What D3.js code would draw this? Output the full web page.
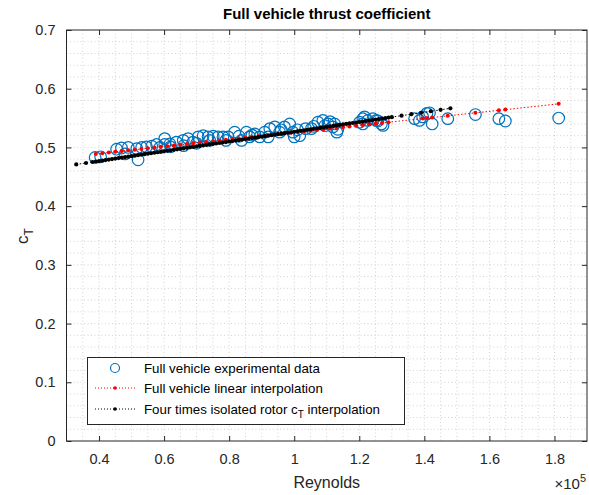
<!DOCTYPE html>
<html><head><meta charset="utf-8">
<script src="https://cdn.jsdelivr.net/npm/d3@7/dist/d3.min.js"></script>
<style>
body{margin:0;background:#fff;}
text{font-family:"Liberation Sans",Arial,Helvetica,sans-serif;}
</style></head>
<body>
<svg id="chart" width="589" height="495"></svg>
<script>
// Reynolds in units of 1e5
const expRe = [0.388,0.405,0.454,0.469,0.480,0.490,0.516,0.520,0.531,0.546,0.562,0.577,0.587,0.602,
  0.602,0.618,0.620,0.638,0.659,0.660,0.674,0.689,0.700,0.705,0.720,0.735,0.740,0.751,0.766,0.781,0.790,0.797,0.817,0.830,0.838,0.853,0.863,
  0.870,0.879,0.894,0.909,0.920,0.925,0.940,0.955,0.960,0.970,0.986,0.996,1.000,1.010,1.017,1.035,1.053,1.060,1.073,1.088,1.094,1.104,1.110,1.119,1.131,
  1.124,1.134,1.201,1.211,1.211,1.216,1.226,1.242,1.252,1.257,1.268,1.273,
  1.370,1.385,1.395,1.408,1.416,1.424,1.472,1.557,1.629,1.649,1.813];
const expCt = [0.483,0.484,0.497,0.499,0.489,0.500,0.498,0.479,0.500,0.501,0.502,0.505,0.500,0.505,
  0.515,0.506,0.501,0.509,0.512,0.503,0.515,0.509,0.507,0.518,0.520,0.518,0.512,0.519,0.518,0.518,0.512,0.518,0.526,0.519,0.512,0.526,0.518,
  0.521,0.523,0.518,0.526,0.518,0.532,0.535,0.526,0.530,0.535,0.540,0.526,0.518,0.530,0.520,0.532,0.532,0.536,0.543,0.546,0.537,0.540,0.544,0.535,0.526,
  0.540,0.531,0.543,0.549,0.540,0.552,0.546,0.549,0.546,0.545,0.540,0.5375,
  0.549,0.546,0.552,0.558,0.559,0.540,0.549,0.556,0.549,0.545,0.550];

const fitRe = [0.39,0.41,0.43,0.45,0.47,0.49,0.51,0.53,0.55,0.57,0.59,0.61,0.63,0.65,0.67,0.69,0.71,0.73,0.75,0.77,0.79,
  0.81,0.83,0.85,0.87,0.89,0.91,0.93,0.95,0.97,0.99,1.01,1.03,1.05,1.07,1.09,1.11,1.13,1.15,1.17,1.19,1.21,1.23,1.25,1.27,1.29,
  1.395,1.408,1.424,1.472,1.557,1.629,1.649,1.813];
const fitCt = [0.4890,0.4902,0.4914,0.4926,0.4938,0.4950,0.4962,0.4974,0.4986,0.4998,0.5010,0.5022,0.5034,0.5046,0.5058,0.5070,0.5082,0.5094,0.5106,0.5118,0.5130,
  0.5142,0.5154,0.5166,0.5178,0.5190,0.5201,0.5213,0.5225,0.5237,0.5249,0.5261,0.5273,0.5285,0.5297,0.5309,0.5321,0.5333,0.5345,0.5357,0.5369,0.5381,0.5393,0.5405,0.5417,0.5429,
  0.5492,0.5500,0.5509,0.5538,0.5589,0.5632,0.5644,0.5742];

const rotRe = [0.33,0.36,0.38,0.39,0.40,0.41,0.42,0.43,0.44,0.45,0.46,0.47,0.48,0.49,0.50,0.51,0.52,0.53,0.54,0.55,0.56,0.57,0.58,0.59,
  0.60,0.61,0.62,0.63,0.64,0.65,0.66,0.67,0.68,0.69,0.70,0.71,0.72,0.73,0.74,0.75,0.76,0.77,0.78,0.79,
  0.80,0.81,0.82,0.83,0.84,0.85,0.86,0.87,0.88,0.89,0.90,0.91,0.92,0.93,0.94,0.95,0.96,0.97,0.98,0.99,
  1.00,1.01,1.02,1.03,1.04,1.05,1.06,1.07,1.08,1.09,1.10,1.11,1.12,1.13,1.14,1.15,1.16,1.17,1.18,1.19,
  1.20,1.21,1.22,1.23,1.24,1.25,1.26,1.27,1.28,1.29,1.30,
  1.33,1.36,1.39,1.42,1.45,1.48];
const rotCt = [0.4710,0.4735,0.4752,0.4760,0.4768,0.4776,0.4785,0.4793,0.4801,0.4810,0.4818,0.4826,0.4835,0.4843,0.4851,0.4860,0.4868,0.4876,0.4885,0.4893,0.4901,0.4909,0.4918,0.4926,
  0.4934,0.4943,0.4951,0.4959,0.4968,0.4976,0.4984,0.4993,0.5001,0.5009,0.5017,0.5026,0.5034,0.5042,0.5051,0.5059,0.5067,0.5076,0.5084,0.5092,
  0.5101,0.5109,0.5117,0.5125,0.5134,0.5142,0.5150,0.5159,0.5167,0.5175,0.5184,0.5192,0.5200,0.5209,0.5217,0.5225,0.5234,0.5242,0.5250,0.5258,
  0.5267,0.5275,0.5283,0.5292,0.5300,0.5308,0.5317,0.5325,0.5333,0.5341,0.5350,0.5358,0.5366,0.5375,0.5383,0.5391,0.5400,0.5408,0.5416,0.5425,
  0.5433,0.5441,0.5450,0.5458,0.5466,0.5474,0.5483,0.5491,0.5499,0.5508,0.5516,
  0.5541,0.5566,0.5591,0.5616,0.5641,0.5666];

const xTicks = [0.4,0.6,0.8,1,1.2,1.4,1.6,1.8];
const yTicks = [0,0.1,0.2,0.3,0.4,0.5,0.6,0.7];
const legendLabels = ["Full vehicle experimental data","Full vehicle linear interpolation","Four times isolated rotor c_T interpolation"];

const L=66.5, R=587, T=30, B=441;
const x = d3.scaleLinear().domain([0.3,1.9]).range([L,R]);
const y = d3.scaleLinear().domain([0,0.7]).range([B,T]);
const svg = d3.select("#chart");
const axCol="#262626";

// grid
const g = svg.append("g");
const xMinor = d3.range(0,33).map(i=>0.3+i*0.05).filter(v=>v>0.301&&v<1.899);
const yMinor = d3.range(0,36).map(i=>i*0.02).filter(v=>v>0.001&&v<0.699);
g.selectAll(".gx").data(xMinor).join("line")
 .attr("x1",d=>x(d)).attr("x2",d=>x(d)).attr("y1",T).attr("y2",B)
 .attr("stroke","#d2d2d2").attr("stroke-width",1).attr("stroke-dasharray","1,2.5");
g.selectAll(".gy").data(yMinor).join("line")
 .attr("x1",L).attr("x2",R).attr("y1",d=>y(d)).attr("y2",d=>y(d))
 .attr("stroke","#d2d2d2").attr("stroke-width",1).attr("stroke-dasharray","1,2.5");

// data
const plot = svg.append("g");
plot.selectAll("circle.exp").data(expRe.map((r,i)=>[r,expCt[i]])).join("circle")
 .attr("cx",d=>x(d[0])).attr("cy",d=>y(d[1])).attr("r",5.8)
 .attr("fill","none").attr("stroke","#0072BD").attr("stroke-width",1.2);

function dotted(re,ct,col,mr){
  const pts = re.map((r,i)=>[r,ct[i]]);
  plot.append("path").datum(pts)
   .attr("d",d3.line().x(d=>x(d[0])).y(d=>y(d[1])))
   .attr("fill","none").attr("stroke",col).attr("stroke-width",1).attr("stroke-dasharray","1.5,2");
  plot.append("g").selectAll("circle").data(pts).join("circle")
   .attr("cx",d=>x(d[0])).attr("cy",d=>y(d[1])).attr("r",mr).attr("fill",col);
}
dotted(fitRe,fitCt,"#ff0000",2);
dotted(rotRe,rotCt,"#000000",2.1);

// axes box
svg.append("rect").attr("x",L).attr("y",T).attr("width",R-L).attr("height",B-T)
 .attr("fill","none").attr("stroke",axCol).attr("stroke-width",1);
const xAx = d3.axisBottom(x).tickValues(xTicks).tickSizeInner(-5).tickSizeOuter(0).tickPadding(13)
 .tickFormat(d=>d3.format("")(+d.toFixed(1)));
svg.append("g").attr("transform",`translate(0,${B})`).call(xAx);
svg.append("g").attr("transform",`translate(0,${T})`)
 .call(d3.axisTop(x).tickValues(xTicks).tickSizeInner(-5).tickSizeOuter(0).tickFormat(""));
const yAx = d3.axisLeft(y).tickValues(yTicks).tickSizeInner(-5).tickSizeOuter(0).tickPadding(11)
 .tickFormat(d=>d3.format("")(+d.toFixed(1)));
svg.append("g").attr("transform",`translate(${L},0)`).call(yAx);
svg.append("g").attr("transform",`translate(${R},0)`)
 .call(d3.axisRight(y).tickValues(yTicks).tickSizeInner(-5).tickSizeOuter(0).tickFormat(""));
svg.selectAll(".domain").remove();
svg.selectAll(".tick line").attr("stroke",axCol);
svg.selectAll(".tick text").attr("fill",axCol).attr("font-size",14.5).attr("font-family","Liberation Sans, Arial, sans-serif");

// labels
svg.append("text").attr("x",(L+R)/2).attr("y",19).attr("text-anchor","middle")
 .attr("font-size",15).attr("font-weight","bold").attr("fill","#000").text("Full vehicle thrust coefficient");
svg.append("text").attr("x",(L+R)/2).attr("y",488).attr("text-anchor","middle")
 .attr("font-size",16).attr("fill",axCol).text("Reynolds");
const yl = svg.append("text").attr("transform","translate(28,236) rotate(-90)").attr("text-anchor","middle")
 .attr("font-size",17).attr("fill",axCol);
yl.append("tspan").text("c");
yl.append("tspan").attr("font-size",12).attr("dy",5).text("T");
const ex = svg.append("text").attr("x",586).attr("y",489).attr("text-anchor","end").attr("font-size",15).attr("fill",axCol);
ex.append("tspan").text("×10");
ex.append("tspan").attr("font-size",11).attr("dy",-7).text("5");

// legend
const lg = svg.append("g");
lg.append("rect").attr("x",87.5).attr("y",357.5).attr("width",317).attr("height",67)
 .attr("fill","#fff").attr("stroke","#262626").attr("stroke-width",1);
const rowsY=[368,388,409];
lg.append("circle").attr("cx",115).attr("cy",rowsY[0]).attr("r",4.5).attr("fill","none").attr("stroke","#0072BD").attr("stroke-width",1.2);
[["#ff0000",1],["#000000",2]].forEach(([c,i])=>{
  lg.append("line").attr("x1",95).attr("x2",136).attr("y1",rowsY[i]).attr("y2",rowsY[i])
   .attr("stroke",c).attr("stroke-width",1).attr("stroke-dasharray","1,2");
  lg.append("circle").attr("cx",115).attr("cy",rowsY[i]).attr("r",1.8).attr("fill",c);
});
legendLabels.forEach((t,i)=>{
  const tx = lg.append("text").attr("x",144).attr("y",rowsY[i]+5).attr("font-size",13.3).attr("fill","#000");
  if(t.includes("c_T")){
    const parts=t.split("c_T");
    tx.append("tspan").text(parts[0]+"c");
    tx.append("tspan").attr("font-size",10).attr("dy",4).text("T");
    tx.append("tspan").attr("dy",-4).text(parts[1]);
  } else tx.text(t);
});
</script>
</body></html>
